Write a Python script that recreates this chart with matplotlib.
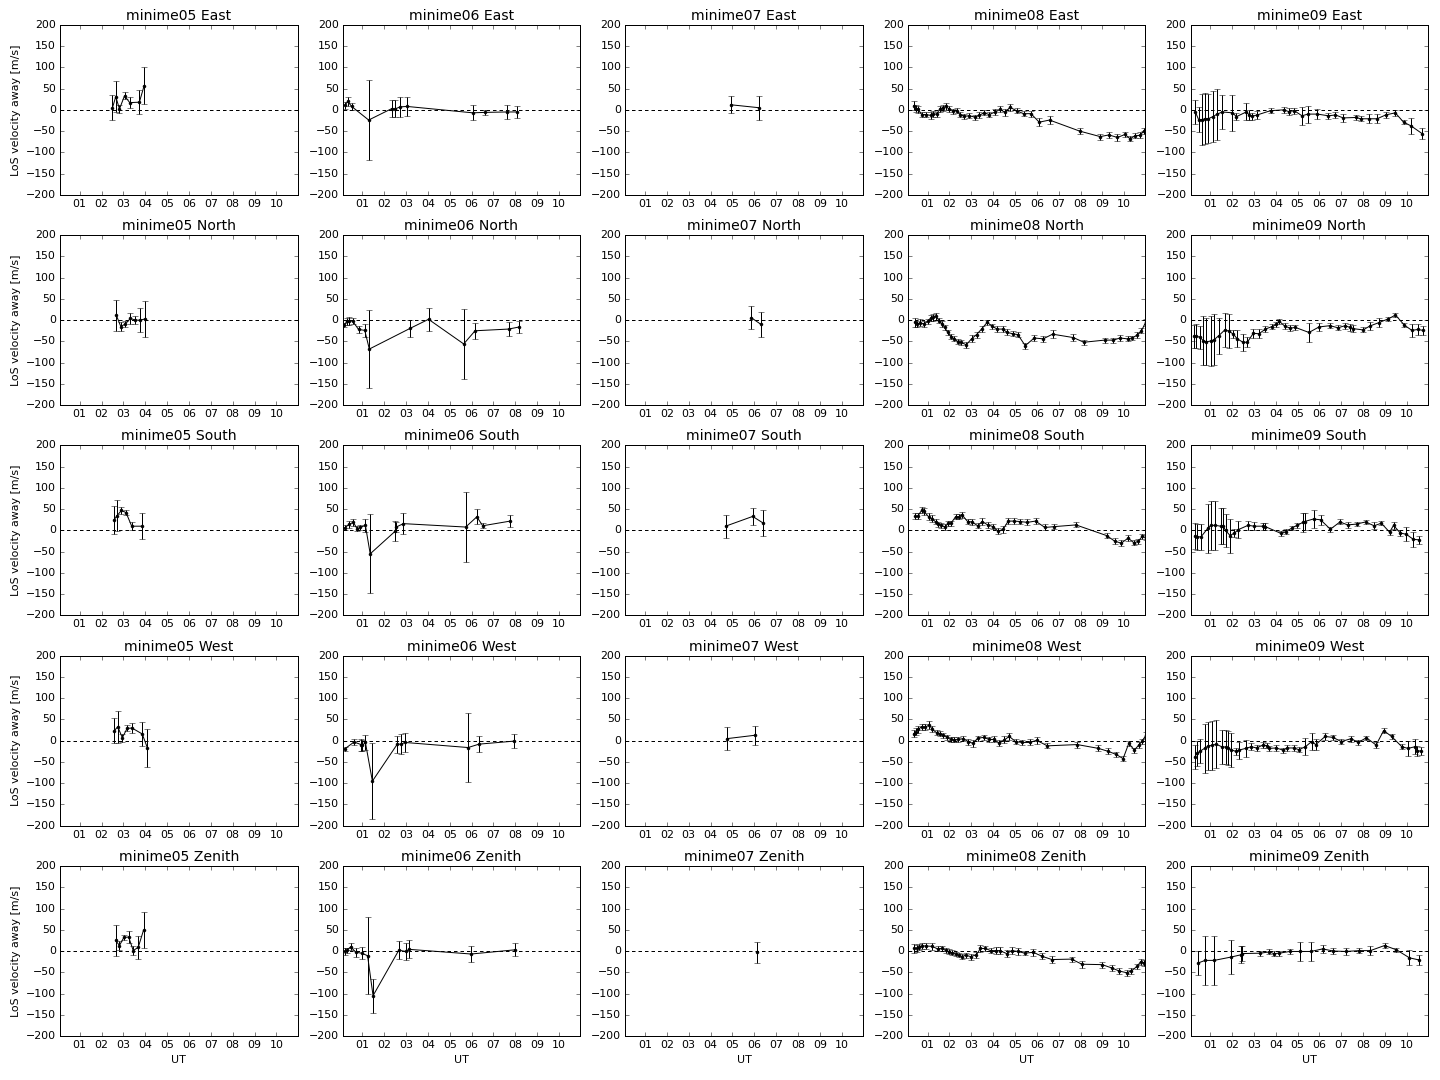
import matplotlib
matplotlib.use('Agg')
import matplotlib.pyplot as plt

# UT hour, LoS velocity [m/s], error [m/s] for each station / look direction

# ---- minime05 ----
m05_east_ut = [2.50, 2.65, 2.82, 3.05, 3.29, 3.73, 3.95]
m05_east_v = [5, 31, 2, 33, 17, 18, 57]
m05_east_e = [30, 36, 10, 8, 13, 28, 44]

m05_north_ut = [2.68, 2.88, 3.09, 3.32, 3.55, 3.77, 4.00]
m05_north_v = [11, -15, -9, 4, 0, 0, 3]
m05_north_e = [36, 10, 8, 12, 10, 28, 43]

m05_south_ut = [2.56, 2.71, 2.91, 3.12, 3.38, 3.83]
m05_south_v = [24, 35, 47, 42, 10, 10]
m05_south_e = [33, 36, 8, 5, 10, 30]

m05_west_ut = [2.59, 2.74, 2.95, 3.17, 3.39, 3.86, 4.10]
m05_west_v = [24, 33, 7, 29, 30, 16, -17]
m05_west_e = [30, 38, 10, 7, 12, 28, 44]

m05_zen_ut = [2.64, 2.82, 3.02, 3.24, 3.45, 3.68, 3.92]
m05_zen_v = [25, 13, 32, 33, 1, 9, 49]
m05_zen_e = [36, 10, 5, 14, 10, 27, 43]

# ---- minime06 ----
m06_east_ut = [0.21, 0.33, 0.51, 1.29, 2.35, 2.49, 2.73, 3.05, 6.05, 6.60, 7.60, 8.10]
m06_east_v = [11, 20, 8, -24, 3, 2, 7, 8, -7, -6, -5, -5]
m06_east_e = [8, 10, 8, 94, 20, 20, 24, 22, 18, 5, 16, 15]

m06_north_ut = [0.18, 0.29, 0.41, 0.55, 0.83, 1.11, 1.32, 3.20, 4.03, 5.64, 6.16, 7.69, 8.19]
m06_north_v = [-11, -3, -2, -2, -22, -24, -68, -19, 2, -56, -25, -21, -16]
m06_north_e = [5, 8, 10, 8, 8, 16, 92, 20, 27, 83, 19, 16, 15]

m06_south_ut = [0.20, 0.38, 0.59, 0.76, 0.90, 1.14, 1.36, 2.50, 2.55, 2.88, 5.73, 6.24, 6.51, 7.77]
m06_south_v = [6, 14, 19, 4, 7, 12, -55, -2, 8, 16, 8, 32, 11, 22]
m06_south_e = [6, 8, 8, 6, 6, 15, 93, 24, 12, 24, 83, 18, 6, 15]

m06_west_ut = [0.20, 0.62, 0.94, 1.00, 1.14, 1.46, 2.60, 2.79, 2.94, 5.84, 6.34, 7.92]
m06_west_v = [-19, -3, -9, -11, -4, -95, -8, -8, -4, -16, -8, -1]
m06_west_e = [5, 8, 14, 12, 18, 90, 20, 23, 22, 82, 19, 16]

m06_zen_ut = [0.20, 0.29, 0.47, 0.70, 0.97, 1.24, 1.49, 2.67, 2.99, 3.14, 5.98, 8.01]
m06_zen_v = [-1, 2, 10, -3, -5, -11, -105, 2, -1, 4, -7, 3]
m06_zen_e = [8, 6, 8, 10, 14, 91, 40, 21, 21, 21, 19, 15]

# ---- minime07 ----
m07_east_ut = [4.92, 6.22]
m07_east_v = [12, 5]
m07_east_e = [20, 28]

m07_north_ut = [5.86, 6.31]
m07_north_v = [6, -10]
m07_north_e = [27, 30]

m07_south_ut = [4.69, 5.93, 6.42]
m07_south_v = [10, 33, 17]
m07_south_e = [27, 20, 30]

m07_west_ut = [4.76, 6.05]
m07_west_v = [5, 13]
m07_west_e = [27, 22]

m07_zen_ut = [6.14]
m07_zen_v = [-3]
m07_zen_e = [25]

# ---- minime08 ----
m08_east_ut = [0.37, 0.45, 0.57, 0.73, 0.92, 1.14, 1.26, 1.41, 1.56, 1.69, 1.82, 1.99, 2.17,
               2.33, 2.48, 2.68, 2.91, 3.17, 3.36, 3.58, 3.82, 4.10, 4.31, 4.55, 4.77, 5.07,
               5.39, 5.73, 6.11, 6.58, 7.96, 8.90, 9.30, 9.69, 10.03, 10.27, 10.49, 10.72, 10.91]
m08_east_v = [10, 3, 1, -11, -11, -13, -10, -10, 2, 5, 8, 2, -3, -2, -11, -15, -14, -17, -13,
              -7, -11, -5, 1, -6, 6, -2, -9, -9, -29, -24, -50, -63, -59, -65, -58, -68, -61,
              -60, -49]
m08_east_e = [10, 8, 8, 7, 7, 8, 8, 6, 6, 7, 8, 6, 6, 6, 6, 6, 6, 6, 7, 6, 6, 6, 7, 9, 8, 6,
              6, 7, 10, 10, 7, 7, 7, 8, 7, 6, 6, 7, 7]

m08_north_ut = [0.42, 0.53, 0.65, 0.83, 1.00, 1.14, 1.26, 1.38, 1.53, 1.66, 1.78, 1.92, 2.07,
                2.22, 2.40, 2.53, 2.77, 3.01, 3.24, 3.47, 3.73, 3.94, 4.19, 4.43, 4.65, 4.89,
                5.13, 5.47, 5.88, 6.29, 6.72, 7.67, 8.15, 9.10, 9.50, 9.80, 10.15, 10.37,
                10.59, 10.79, 10.98]
m08_north_v = [-5, -9, -6, -9, -3, 5, 7, 9, -1, -9, -17, -29, -39, -44, -51, -52, -58, -44,
               -34, -21, -5, -14, -21, -21, -29, -32, -34, -60, -42, -44, -33, -41, -52, -47,
               -47, -42, -44, -42, -35, -25, -5]
m08_north_e = [10, 8, 8, 8, 6, 7, 8, 8, 6, 6, 6, 6, 6, 6, 6, 6, 7, 8, 7, 7, 6, 6, 7, 8, 7, 6,
               6, 7, 7, 7, 9, 8, 6, 6, 6, 6, 6, 5, 6, 6, 8]

m08_south_ut = [0.42, 0.54, 0.74, 0.83, 1.05, 1.20, 1.37, 1.49, 1.63, 1.79, 1.95, 2.07, 2.28,
                2.42, 2.57, 2.83, 3.04, 3.29, 3.50, 3.75, 4.00, 4.23, 4.46, 4.69, 4.95, 5.23,
                5.56, 5.94, 6.37, 6.80, 7.79, 9.19, 9.56, 9.86, 10.18, 10.44, 10.64, 10.82,
                10.98]
m08_south_v = [33, 33, 48, 45, 32, 28, 20, 15, 12, 8, 17, 17, 32, 32, 37, 21, 20, 11, 21, 13,
               9, -2, 3, 22, 22, 21, 19, 22, 7, 9, 13, -12, -25, -30, -18, -29, -26, -14, -17]
m08_south_e = [7, 7, 8, 8, 8, 8, 6, 6, 6, 6, 6, 6, 6, 6, 7, 6, 7, 6, 8, 7, 6, 7, 8, 8, 7, 7,
               7, 8, 7, 6, 6, 6, 7, 7, 7, 6, 6, 6, 6]

m08_west_ut = [0.37, 0.47, 0.56, 0.74, 0.89, 1.08, 1.21, 1.41, 1.56, 1.72, 1.90, 2.05, 2.20,
               2.40, 2.63, 2.86, 3.07, 3.30, 3.58, 3.82, 4.05, 4.28, 4.51, 4.74, 5.03, 5.33,
               5.67, 5.99, 6.48, 7.85, 8.82, 9.27, 9.62, 9.95, 10.21, 10.46, 10.67, 10.82,
               10.99]
m08_west_v = [17, 21, 27, 33, 32, 37, 27, 19, 17, 13, 8, 3, 2, 3, 5, -2, -6, 6, 8, 3, 3, -6,
              2, 10, -2, -4, -4, 1, -12, -9, -18, -25, -32, -42, -6, -22, -10, -1, 13]
m08_west_e = [8, 8, 8, 7, 7, 9, 7, 6, 6, 6, 6, 6, 6, 6, 6, 7, 8, 6, 6, 6, 7, 7, 8, 8, 6, 6,
              7, 8, 6, 7, 7, 7, 6, 6, 6, 6, 6, 6, 7]

m08_zen_ut = [0.37, 0.50, 0.62, 0.76, 0.91, 1.21, 1.46, 1.64, 1.82, 1.98, 2.13, 2.28, 2.43,
              2.57, 2.74, 2.97, 3.23, 3.42, 3.65, 3.88, 4.11, 4.31, 4.62, 4.86, 5.12, 5.45,
              5.84, 6.22, 6.69, 7.59, 8.06, 8.99, 9.44, 9.77, 10.11, 10.32, 10.59, 10.75, 10.92]
m08_zen_v = [6, 6, 10, 12, 12, 11, 5, 6, 2, -2, -4, -7, -10, -13, -10, -13, -9, 6, 6, 1, 1, 1,
             -6, 1, -1, -5, -3, -12, -20, -19, -31, -32, -40, -47, -51, -47, -36, -25, -28]
m08_zen_e = [10, 8, 7, 7, 7, 8, 6, 6, 6, 6, 6, 5, 5, 5, 6, 7, 7, 9, 5, 6, 8, 8, 8, 9, 8, 5, 8,
             7, 8, 6, 8, 7, 6, 6, 7, 6, 6, 7, 7]

# ---- minime09 ----
m09_east_ut = [0.32, 0.47, 0.61, 0.76, 0.91, 1.12, 1.32, 1.55, 2.02, 2.20, 2.65, 2.79, 2.92,
               3.15, 3.76, 4.36, 4.59, 4.85, 5.20, 5.47, 5.91, 6.41, 6.73, 7.09, 7.65, 7.89,
               8.26, 8.64, 9.03, 9.47, 9.85, 10.20, 10.70]
m09_east_v = [-5, -23, -23, -21, -21, -16, -10, -5, -7, -16, -5, -12, -15, -12, -2, 0, -4, -2,
              -14, -10, -10, -14, -12, -19, -18, -21, -21, -21, -12, -7, -29, -38, -56]
m09_east_e = [28, 30, 60, 60, 58, 60, 60, 40, 42, 8, 20, 12, 8, 9, 6, 7, 8, 7, 21, 20, 12, 7,
              8, 9, 6, 6, 11, 11, 7, 7, 5, 18, 13]

m09_north_ut = [0.24, 0.36, 0.52, 0.68, 0.83, 1.02, 1.18, 1.38, 1.67, 1.86, 2.06, 2.24, 2.50,
                2.70, 2.97, 3.23, 3.53, 3.83, 4.03, 4.17, 4.41, 4.67, 4.89, 5.52, 5.98, 6.48,
                6.85, 7.17, 7.39, 7.55, 8.00, 8.30, 8.71, 9.15, 9.48, 9.89, 10.23, 10.50, 10.74]
m09_north_v = [-38, -38, -40, -48, -51, -49, -46, -37, -23, -26, -33, -44, -52, -52, -31, -32,
               -21, -15, -10, -3, -14, -19, -17, -29, -16, -13, -18, -13, -17, -20, -23, -14,
               -6, 3, 12, -12, -24, -22, -24]
m09_north_e = [27, 28, 27, 57, 55, 58, 60, 42, 40, 40, 10, 20, 20, 12, 10, 10, 8, 7, 6, 6, 7,
               7, 6, 22, 10, 6, 6, 7, 9, 8, 6, 10, 11, 5, 5, 5, 15, 12, 10]

m09_south_ut = [0.29, 0.41, 0.58, 0.89, 1.03, 1.23, 1.48, 1.59, 1.70, 1.91, 2.11, 2.29, 2.73,
                3.02, 3.41, 3.52, 4.24, 4.48, 4.74, 4.98, 5.24, 5.32, 5.73, 6.05, 6.50, 6.94,
                7.29, 7.70, 8.11, 8.50, 8.83, 9.21, 9.39, 9.70, 9.97, 10.30, 10.55]
m09_south_v = [-13, -15, -15, 5, 12, 12, 10, 10, 0, -12, -6, 2, 12, 10, 10, 9, -7, -3, 6, 12,
               19, 21, 27, 25, 3, 20, 13, 15, 20, 11, 17, -4, 12, -6, -9, -21, -22]
m09_south_e = [30, 30, 30, 57, 57, 58, 42, 42, 38, 40, 10, 20, 10, 10, 8, 8, 6, 6, 5, 6, 22,
               20, 22, 12, 6, 6, 8, 5, 5, 8, 5, 6, 8, 8, 16, 18, 10]

m09_west_ut = [0.30, 0.39, 0.55, 0.74, 0.91, 1.09, 1.27, 1.52, 1.73, 1.82, 1.95, 2.17, 2.32,
               2.62, 2.88, 3.12, 3.42, 3.61, 3.70, 4.02, 4.33, 4.53, 4.82, 5.06, 5.36, 5.64,
               5.83, 6.26, 6.61, 7.00, 7.45, 7.77, 8.15, 8.59, 8.94, 9.30, 9.77, 10.05, 10.38,
               10.47, 10.65]
m09_west_v = [-38, -30, -24, -18, -12, -11, -8, -14, -15, -17, -21, -25, -22, -18, -14, -17,
              -10, -12, -18, -17, -22, -17, -17, -21, -14, -2, -9, 10, 8, -2, 5, -4, 7, -10,
              24, 10, -14, -18, -14, -24, -24]
m09_west_e = [28, 30, 28, 57, 57, 58, 57, 40, 40, 40, 40, 8, 20, 20, 8, 8, 6, 6, 6, 6, 6, 6,
              6, 6, 20, 20, 12, 8, 6, 6, 7, 5, 5, 8, 5, 6, 6, 18, 17, 12, 10]

m09_zen_ut = [0.45, 0.77, 1.18, 1.97, 2.39, 2.44, 3.30, 3.71, 3.91, 4.17, 4.64, 5.12, 5.61,
              6.14, 6.64, 7.20, 7.83, 8.33, 8.98, 9.52, 10.12, 10.56]
m09_zen_v = [-28, -22, -22, -14, -9, -6, -5, -2, -6, -5, -1, -1, -1, 5, 0, -1, 1, 1, 13, 3,
             -16, -21]
m09_zen_e = [28, 57, 58, 40, 20, 18, 6, 6, 5, 6, 6, 22, 22, 10, 6, 8, 5, 10, 5, 5, 18, 12]

stations = ['minime05', 'minime06', 'minime07', 'minime08', 'minime09']
directions = ['East', 'North', 'South', 'West', 'Zenith']

panels = {
    ('minime05', 'East'): (m05_east_ut, m05_east_v, m05_east_e),
    ('minime05', 'North'): (m05_north_ut, m05_north_v, m05_north_e),
    ('minime05', 'South'): (m05_south_ut, m05_south_v, m05_south_e),
    ('minime05', 'West'): (m05_west_ut, m05_west_v, m05_west_e),
    ('minime05', 'Zenith'): (m05_zen_ut, m05_zen_v, m05_zen_e),
    ('minime06', 'East'): (m06_east_ut, m06_east_v, m06_east_e),
    ('minime06', 'North'): (m06_north_ut, m06_north_v, m06_north_e),
    ('minime06', 'South'): (m06_south_ut, m06_south_v, m06_south_e),
    ('minime06', 'West'): (m06_west_ut, m06_west_v, m06_west_e),
    ('minime06', 'Zenith'): (m06_zen_ut, m06_zen_v, m06_zen_e),
    ('minime07', 'East'): (m07_east_ut, m07_east_v, m07_east_e),
    ('minime07', 'North'): (m07_north_ut, m07_north_v, m07_north_e),
    ('minime07', 'South'): (m07_south_ut, m07_south_v, m07_south_e),
    ('minime07', 'West'): (m07_west_ut, m07_west_v, m07_west_e),
    ('minime07', 'Zenith'): (m07_zen_ut, m07_zen_v, m07_zen_e),
    ('minime08', 'East'): (m08_east_ut, m08_east_v, m08_east_e),
    ('minime08', 'North'): (m08_north_ut, m08_north_v, m08_north_e),
    ('minime08', 'South'): (m08_south_ut, m08_south_v, m08_south_e),
    ('minime08', 'West'): (m08_west_ut, m08_west_v, m08_west_e),
    ('minime08', 'Zenith'): (m08_zen_ut, m08_zen_v, m08_zen_e),
    ('minime09', 'East'): (m09_east_ut, m09_east_v, m09_east_e),
    ('minime09', 'North'): (m09_north_ut, m09_north_v, m09_north_e),
    ('minime09', 'South'): (m09_south_ut, m09_south_v, m09_south_e),
    ('minime09', 'West'): (m09_west_ut, m09_west_v, m09_west_e),
    ('minime09', 'Zenith'): (m09_zen_ut, m09_zen_v, m09_zen_e),
}

hour_ticks = list(range(1, 11))
hour_labels = ['%02d' % h for h in hour_ticks]

plt.style.use('classic')
plt.rcParams['figure.facecolor'] = 'white'
plt.rcParams['savefig.facecolor'] = 'white'
plt.rcParams['font.size'] = 11
plt.rcParams['axes.titlesize'] = 14

fig, axes = plt.subplots(5, 5, figsize=(20, 15))
fig.subplots_adjust(left=0.0417, right=0.9917, bottom=0.0407, top=0.977,
                    wspace=0.19, hspace=0.237)

for j, stn in enumerate(stations):
    for i, d in enumerate(directions):
        ax = axes[i, j]
        t, v, e = panels[(stn, d)]
        ax.errorbar(t, v, yerr=e, fmt='k.-', ecolor='k', capsize=3)
        ax.axhline(0, color='k', linestyle='--', dashes=(3.5, 3))
        ax.set_xlim(0.1, 10.97)
        ax.set_ylim(-200, 200)
        ax.set_yticks(range(-200, 201, 50))
        ax.set_xticks(hour_ticks)
        ax.set_xticklabels(hour_labels)
        ax.set_title('%s %s' % (stn, d))
        if j == 0:
            ax.set_ylabel('LoS velocity away [m/s]')
        if i == 4:
            ax.set_xlabel('UT')

plt.savefig('out.png', dpi=72)
